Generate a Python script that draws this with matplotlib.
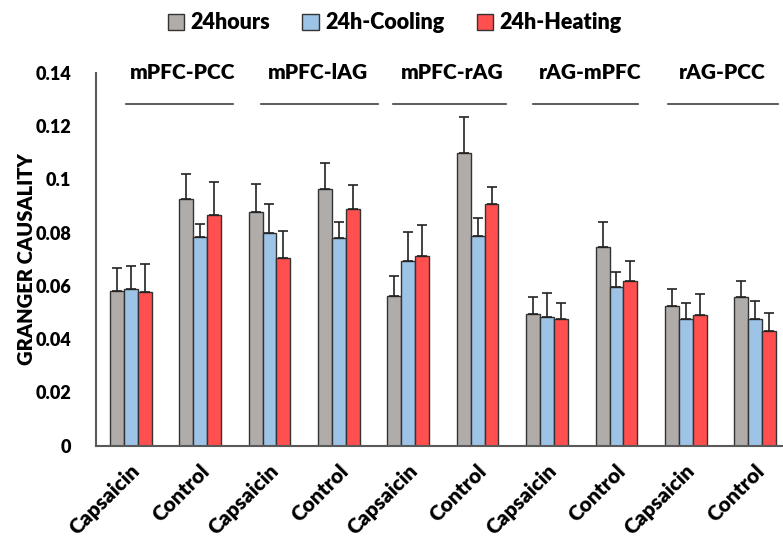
import numpy as np
from matplotlib import pyplot as plt
from matplotlib.patches import Patch
from matplotlib.transforms import ScaledTranslation

plt.rcParams['font.family'] = ['Lato', 'DejaVu Sans']

# conditions along the x axis, two per connection
conditions = ["Capsaicin", "Control"] * 5
connections = ["mPFC-PCC", "mPFC-lAG", "mPFC-rAG", "rAG-mPFC", "rAG-PCC"]
series_names = ["24hours", "24h-Cooling", "24h-Heating"]

# mean Granger causality per condition
hours24 = [0.0582, 0.0926, 0.0876, 0.0964, 0.0563, 0.1098, 0.0493, 0.0744, 0.0523, 0.0559]
cooling = [0.0587, 0.0783, 0.0797, 0.0778, 0.0693, 0.0788, 0.0483, 0.0594, 0.0475, 0.0475]
heating = [0.0577, 0.0867, 0.0705, 0.0889, 0.0711, 0.0906, 0.0475, 0.0618, 0.0489, 0.0432]

# upper error (SEM)
hours24_err = [0.0086, 0.0095, 0.0107, 0.0096, 0.0075, 0.0134, 0.0066, 0.0097, 0.0066, 0.0059]
cooling_err = [0.0088, 0.0050, 0.0111, 0.0060, 0.0109, 0.0065, 0.0091, 0.0057, 0.0059, 0.0068]
heating_err = [0.0104, 0.0124, 0.0101, 0.0089, 0.0116, 0.0066, 0.0059, 0.0075, 0.0080, 0.0067]

colors = ["#B0ACAA", "#9DC3E6", "#FF4F4F"]

# horizontal bracket spans above each connection pair (x data units)
bracket_spans = [(-0.07, 1.47), (1.88, 3.56), (3.78, 5.41), (5.80, 7.31), (7.74, 9.33)]
label_x = [0.75, 2.70, 4.63, 6.62, 8.52]

fig = plt.figure(figsize=(7.83, 5.44), dpi=100)
ax = fig.add_axes([0.1226, 0.1807, 0.8774, 0.6858])

x = np.arange(len(conditions))
width = 0.2
for i, (vals, errs) in enumerate(zip([hours24, cooling, heating],
                                     [hours24_err, cooling_err, heating_err])):
    ax.bar(x + (i - 1) * width, vals, width,
           color=colors[i], edgecolor="#333333", linewidth=1.0,
           yerr=[np.zeros(len(errs)), errs],
           error_kw=dict(ecolor="#222222", elinewidth=1.2, capsize=3.5, capthick=1.2),
           zorder=2)

ax.set_xlim(-0.5, 9.4)
ax.set_ylim(0, 0.14)
ax.set_yticks([0, 0.02, 0.04, 0.06, 0.08, 0.1, 0.12, 0.14])
ax.set_yticklabels(["0", "0.02", "0.04", "0.06", "0.08", "0.1", "0.12", "0.14"],
                   fontsize=13, fontweight="heavy")
ax.tick_params(axis="y", length=0, pad=18)
ax.set_xticks(x)
ax.set_xticklabels(conditions, rotation=45, ha="right", va="center",
                   rotation_mode="anchor", fontsize=15, fontweight="heavy")
ax.tick_params(axis="x", length=0, pad=16)
# nudge the slanted labels a little to the right
shift = ScaledTranslation(0.06, 0, fig.dpi_scale_trans)
for lbl in ax.get_xticklabels():
    lbl.set_transform(lbl.get_transform() + shift)

for side in ["top", "right"]:
    ax.spines[side].set_visible(False)
for side in ["left", "bottom"]:
    ax.spines[side].set_color("#595959")
    ax.spines[side].set_linewidth(1.5)

ax.set_ylabel("GRANGER CAUSALITY", fontsize=14.5, fontweight="heavy")
ax.yaxis.set_label_coords(-0.088, 0.5)

for (x0, x1), lx, name in zip(bracket_spans, label_x, connections):
    ax.plot([x0, x1], [0.1282, 0.1282], color="#404040", linewidth=1.2,
            clip_on=False)
    ax.text(lx, 0.14, name, ha="center", va="center", fontsize=15,
            fontweight="heavy")

handles = [Patch(facecolor=c, edgecolor="#333333", linewidth=1.0) for c in colors]
fig.legend(handles, series_names, loc="center", bbox_to_anchor=(0.504, 0.958),
           ncol=3, frameon=False, handlelength=0.75, handleheight=0.75,
           handletextpad=0.3, columnspacing=1.5,
           prop=dict(size=15.5, weight="heavy"))

fig.savefig("out.png", dpi=100)
